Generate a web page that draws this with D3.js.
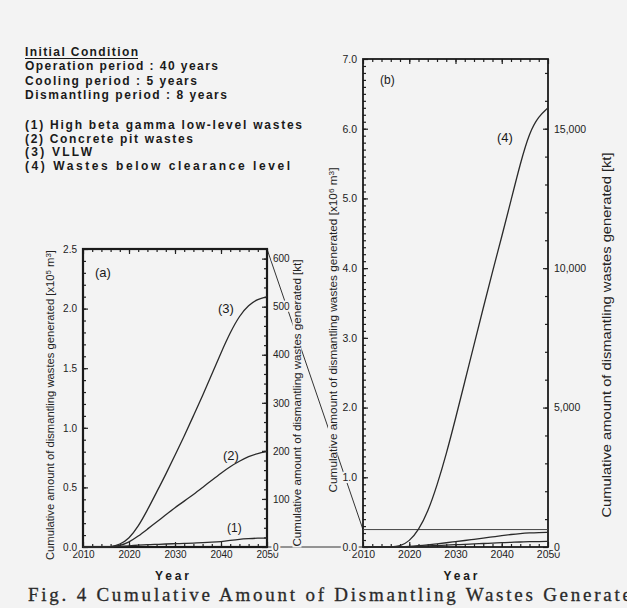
<!DOCTYPE html>
<html lang="en">
<head>
<meta charset="UTF-8">
<title>Fig. 4 Cumulative Amount of Dismantling Wastes</title>
<script src="https://d3js.org/d3.v7.min.js"></script>
<style>
  body{margin:0;background:#f3f3f3;}
  svg{display:block;background:#f3f3f3;}
  .domain{display:none;}
  .tick line{stroke:#222;stroke-width:1.2px;}
  .tick text{font-family:"Liberation Sans",Arial,sans-serif;fill:#222;
             paint-order:stroke;stroke:#f3f3f3;stroke-width:4px;}
  .note{font-family:"Liberation Sans",Arial,sans-serif;font-weight:bold;font-size:12px;fill:#1a1a1a;}
  .curve{fill:none;stroke:#2a2a2a;stroke-width:1.3px;}
  .tag{font-family:"Liberation Sans",Arial,sans-serif;font-size:13px;fill:#1a1a1a;}
  .ttl{font-family:"Liberation Sans Narrow","Liberation Sans",Arial,sans-serif;fill:#222;}
</style>
</head>
<body>
<svg id="canvas" width="627" height="608"></svg>
<script>
// years on the x axis
let years = [2010,2012,2014,2016,2018,2020,2022,2024,2026,2028,2030,
             2032,2034,2036,2038,2040,2042,2044,2046,2048,2050]
// panel (a), x10^5 m3
let highBetaGamma = [0,0,0,0,0.005,0.01,0.015,0.02,0.022,0.025,0.028,
                     0.03,0.033,0.036,0.04,0.045,0.055,0.065,0.07,0.075,0.075]
let concretePit   = [0,0,0,0,0.01,0.04,0.09,0.15,0.21,0.27,0.33,
                     0.385,0.44,0.50,0.56,0.62,0.675,0.72,0.76,0.785,0.80]
let vllw          = [0,0,0,0,0.02,0.07,0.17,0.31,0.46,0.61,0.77,
                     0.93,1.10,1.27,1.45,1.63,1.80,1.94,2.03,2.08,2.10]
// panel (b), x10^6 m3
let belowClearance = [0,0,0,0,0.01,0.08,0.24,0.50,0.88,1.33,1.84,
                      2.37,2.90,3.43,3.95,4.45,4.97,5.50,5.95,6.18,6.30]

let xTicks = [2010,2020,2030,2040,2050]
let aLeftTicks = [0,0.5,1.0,1.5,2.0,2.5]
let aRightTicks = [0,100,200,300,400,500,600]
let bLeftTicks = [0,1,2,3,4,5,6,7]
let bRightTicks = [0,5000,10000,15000]

let conditions = ["Operation period : 40 years","Cooling period : 5 years","Dismantling period : 8 years"]
let legendNames = ["(1) High beta gamma low-level wastes","(2) Concrete pit wastes","(3) VLLW","(4) Wastes below clearance level"]

let svg = d3.select('svg')
let bg = "#f3f3f3"

// scales
let xA = d3.scaleLinear().domain([2010,2050]).range([83,267])
let yA = d3.scaleLinear().domain([0,2.5]).range([547,249])
let yAr = d3.scaleLinear().domain([0,620]).range([547,249])
let xB = d3.scaleLinear().domain([2010,2050]).range([363,548])
let yB = d3.scaleLinear().domain([0,7]).range([547,59])
let yBr = d3.scaleLinear().domain([0,17500]).range([547,59])

// leader lines from (a) to (b)
let leaders = svg.append('g').attr("stroke","#333").attr("stroke-width",1)
leaders.append('line')
    .attr("x1",xA(2050)).attr("y1",yA(2.5))
    .attr("x2",xB(2010)).attr("y2",yB(0.25))
leaders.append('line')
    .attr("x1",xA(2050)).attr("y1",yA(0))
    .attr("x2",xB(2010)).attr("y2",yB(0))

// text block top left
let notes = svg.append('g')
notes.append('text').attr("class","note").attr("x",25).attr("y",56)
    .attr("textLength",113).attr("lengthAdjust","spacing").text("Initial Condition")
notes.append('line').attr("x1",25).attr("x2",138).attr("y1",58.5).attr("y2",58.5)
    .attr("stroke","#1a1a1a").attr("stroke-width",1)
let condW = [193,172,202]
conditions.forEach(function(t,i){
    notes.append('text').attr("class","note").attr("x",25).attr("y",70+i*14.5)
        .attr("textLength",condW[i]).attr("lengthAdjust","spacing").text(t)
})
let legW = [277,168,67,265]
legendNames.forEach(function(t,i){
    notes.append('text').attr("class","note").attr("x",25).attr("y",129+i*13.6)
        .attr("textLength",legW[i]).attr("lengthAdjust","spacing").text(t)
})

function drawAxes(g, x, y, yr, leftTicks, leftMinor, rightTicks, rightMinor, leftFmt, rightFmt, fs){
    let [x0,x1] = x.range(), [y1,y0] = y.range()
    let minorYears = d3.range(2012,2050,2)
    g.append('g').attr("transform","translate(0,"+y1+")")
        .call(d3.axisBottom(x).tickValues(xTicks).tickSize(-5).tickPadding(4).tickFormat(d3.format("d")))
    g.append('g').attr("transform","translate(0,"+y1+")")
        .call(d3.axisBottom(x).tickValues(minorYears).tickSize(-3).tickFormat(""))
    g.append('g').attr("transform","translate(0,"+y0+")")
        .call(d3.axisTop(x).tickValues(xTicks).tickSize(-5).tickFormat(""))
    g.append('g').attr("transform","translate(0,"+y0+")")
        .call(d3.axisTop(x).tickValues(minorYears).tickSize(-3).tickFormat(""))
    g.append('g').attr("transform","translate("+x0+",0)")
        .call(d3.axisLeft(y).tickValues(leftTicks).tickSize(-5).tickPadding(6).tickFormat(leftFmt))
    g.append('g').attr("transform","translate("+x0+",0)")
        .call(d3.axisLeft(y).tickValues(leftMinor).tickSize(-3).tickFormat(""))
    g.append('g').attr("transform","translate("+x1+",0)")
        .call(d3.axisRight(yr).tickValues(rightTicks).tickSize(-5).tickPadding(6).tickFormat(rightFmt))
    g.append('g').attr("transform","translate("+x1+",0)")
        .call(d3.axisRight(yr).tickValues(rightMinor).tickSize(-3).tickFormat(""))
    g.selectAll('.tick text').style("font-size",fs+"px")
}

// panel (a)
let pA = svg.append('g')
drawAxes(pA, xA, yA, yAr, aLeftTicks, d3.range(0.1,2.5,0.1), aRightTicks, d3.range(20,620,20),
    d3.format(".1f"), d3.format("d"), 10)
pA.append('rect').attr("x",xA(2010)).attr("y",yA(2.5))
    .attr("width",xA(2050)-xA(2010)).attr("height",yA(0)-yA(2.5))
    .attr("fill","none").attr("stroke","#1a1a1a").attr("stroke-width",2.2)

let lineA = d3.line().x(function(d,i){return xA(years[i])}).y(function(d){return yA(d)}).curve(d3.curveBasis)
;[highBetaGamma, concretePit, vllw].forEach(function(s){
    pA.append('path').datum(s).attr("class","curve").attr("d",lineA)
})
pA.append('text').attr("class","tag").attr("x",95).attr("y",277).text("(a)")
pA.append('text').attr("class","tag").attr("x",218).attr("y",313).text("(3)")
pA.append('text').attr("class","tag").attr("x",223).attr("y",460).text("(2)")
pA.append('text').attr("class","tag").attr("x",227).attr("y",532).style("font-size","12px").text("(1)")

// panel (b)
let pB = svg.append('g')
drawAxes(pB, xB, yB, yBr, bLeftTicks, d3.range(0.1,7,0.1), bRightTicks, d3.range(1000,17500,1000),
    d3.format(".1f"), d3.format(","), 10.5)
pB.append('rect').attr("x",xB(2010)).attr("y",yB(7))
    .attr("width",xB(2050)-xB(2010)).attr("height",yB(0)-yB(7))
    .attr("fill","none").attr("stroke","#1a1a1a").attr("stroke-width",1.8)
pB.append('line').attr("x1",xB(2010)).attr("x2",xB(2050)).attr("y1",yB(0.25)).attr("y2",yB(0.25))
    .attr("stroke","#444").attr("stroke-width",1)

let lineB = d3.line().x(function(d,i){return xB(years[i])}).y(function(d){return yB(d)}).curve(d3.curveBasis)
pB.append('path').datum(belowClearance).attr("class","curve").attr("d",lineB)
;[concretePit, vllw].forEach(function(s){
    // same wastes shown in x10^6 m3
    pB.append('path').datum(s.map(function(v){return v/10})).attr("class","curve")
        .attr("stroke-width",1).attr("d",lineB)
})
pB.append('text').attr("class","tag").attr("x",380).attr("y",84).style("font-size","12px").text("(b)")
pB.append('text').attr("class","tag").attr("x",497).attr("y",142).text("(4)")

// rotated axis titles with a background patch
function vTitle(cx, cy, len, fs, parts){
    let g = svg.append('g').attr("transform","translate("+cx+","+cy+") rotate(-90)")
    let r = g.append('rect').attr("fill",bg)
    let t = g.append('text').attr("class","ttl").attr("text-anchor","middle").attr("dy","0.35em")
        .style("font-size",fs+"px").attr("textLength",len).attr("lengthAdjust","spacingAndGlyphs")
    parts.forEach(function(p){
        let ts = t.append('tspan').text(p[0])
        if(p[1]) ts.attr("baseline-shift","super").style("font-size",(fs*0.7)+"px")
    })
    let b = t.node().getBBox()
    r.attr("x",b.x-1).attr("y",b.y+1).attr("width",b.width+2).attr("height",b.height-2)
}
let ttlMain = "Cumulative amount of dismantling wastes generated "
vTitle(50, 405, 310, 10, [[ttlMain+"[x10"],["5",1],[" m"],["3",1],["]"]])
vTitle(297, 403, 287, 10, [[ttlMain+"[kt]"]])
vTitle(333, 330, 325, 10, [[ttlMain+"[x10"],["6",1],[" m"],["3",1],["]"]])
vTitle(607, 335, 365, 12.5, [[ttlMain+"[kt]"]])

// x titles
svg.append('text').attr("class","note").attr("x",xA(2030)-3).attr("y",580).attr("text-anchor","middle")
    .attr("textLength",34).attr("lengthAdjust","spacing").text("Year")
svg.append('text').attr("class","note").attr("x",xB(2030)+5).attr("y",580).attr("text-anchor","middle")
    .attr("textLength",34).attr("lengthAdjust","spacing").text("Year")

// caption, cut by the right edge as in the scan
svg.append('text').attr("x",28).attr("y",601)
    .style("font-family","'Liberation Serif','Times New Roman',serif").style("font-size","19px")
    .attr("fill","#2a2a2a").attr("stroke","#2a2a2a").attr("stroke-width",0.3)
    .attr("textLength",603).attr("lengthAdjust","spacing")
    .text("Fig. 4  Cumulative Amount of Dismantling Wastes Generate")
</script>
</body>
</html>
